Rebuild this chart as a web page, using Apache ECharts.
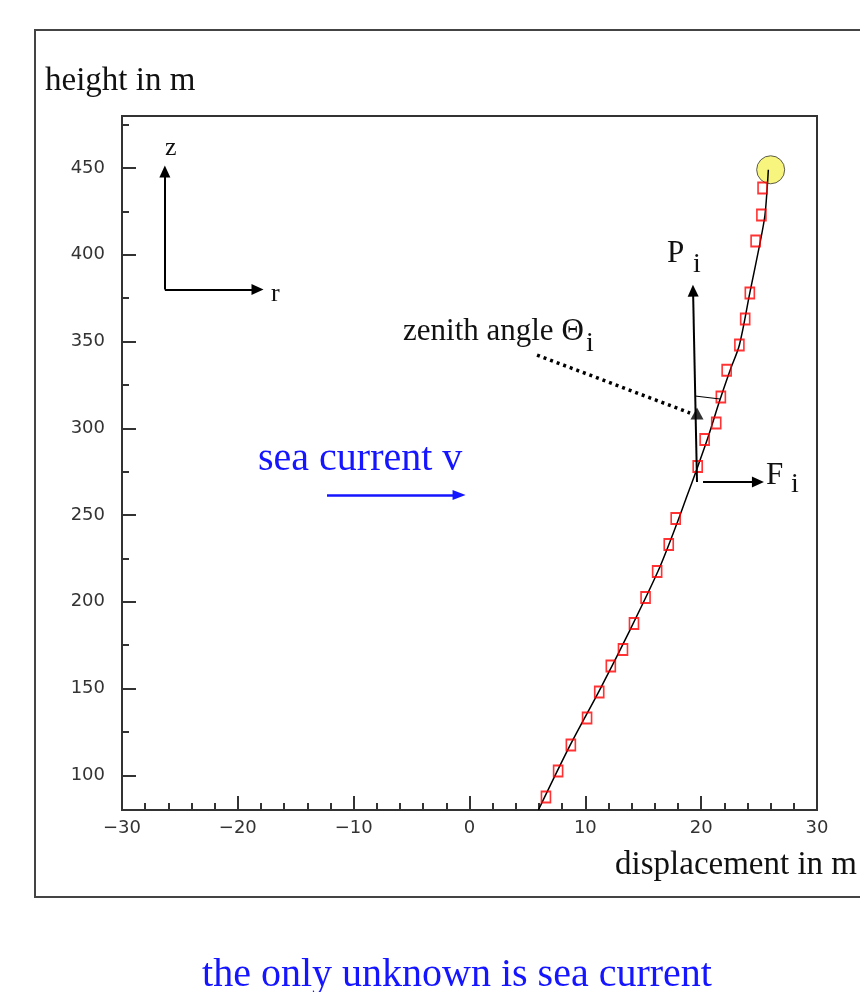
<!DOCTYPE html>
<html><head><meta charset="utf-8">
<script src="https://cdn.jsdelivr.net/npm/echarts@6/dist/echarts.min.js"></script>
<style>html,body{margin:0;padding:0;background:#fff}#c{width:860px;height:992px}</style>
</head><body><div id="c"></div>
<script>
// ---- data ----
const xTicks = [-30, -20, -10, 0, 10, 20, 30];
const yTicks = [100, 150, 200, 250, 300, 350, 400, 450];
const yMinorTicks = [125, 175, 225, 275, 325, 375, 425, 475];
const markerPoints = [
  [25.3, 438.5], [25.2, 423], [24.7, 408], [24.2, 378], [23.8, 363], [23.3, 348],
  [22.2, 333.5], [21.7, 318], [21.3, 303], [20.3, 293.5], [19.7, 278], [17.8, 248],
  [17.2, 233], [16.2, 217.5], [15.2, 202.5], [14.2, 187.5], [13.25, 172.5], [12.2, 163],
  [11.2, 148], [10.15, 133], [8.75, 117.5], [7.65, 102.5], [6.6, 87.5]
];
const curvePoints = [
  [5.95, 80], [8.7, 117.5], [11.3, 150], [13.8, 183], [16.3, 218], [17.9, 245],
  [18.75, 260.5], [19.6, 276], [20.6, 295], [21.6, 316], [22.5, 333.5], [23.3, 348],
  [24.2, 378], [25.1, 407.5], [25.5, 422.5], [25.7, 438.5], [25.8, 449]
];
const buoy = [[26.0, 449]];
// annotation arrows (data coordinates)
const blackArrows = [
  [[-26.3, 380], [-26.3, 448]],   // z
  [[-26.3, 380], [-18.3, 380]],   // r
  [[19.64, 269], [19.3, 379.3]],  // P_i
  [[20.16, 269], [24.9, 269]]     // F_i
];
const blueArrow = [[[-12.3, 261.6], [-0.9, 261.6]]];
const angleMark = [[[19.47, 318.6], [21.63, 316.9]]];
const dottedArrow = [[[5.83, 342.2], [19.04, 308.8]]];
const dottedHead = [[19.64, 308.5]];

const serif = '"Liberation Serif", "Times New Roman", serif';
function seg(list) { return list.map(p => [{ coord: p[0] }, { coord: p[1] }]); }
function txt(text, x, y, size, color, align) {
  return { type: 'text', x: x, y: y, silent: true,
    style: { text: text, fontFamily: serif, fontSize: size, fill: color || '#111',
      align: align || 'left', verticalAlign: 'middle' } };
}

const chart = echarts.init(document.getElementById('c'), null, { renderer: 'canvas' });
chart.setOption({
  animation: false,
  backgroundColor: '#fff',
  grid: { left: 122, top: 116, width: 695, height: 694, show: true,
    borderColor: '#333', borderWidth: 2, backgroundColor: 'transparent' },
  xAxis: {
    type: 'value', min: -30, max: 30, interval: 10,
    axisLine: { show: true, onZero: false, lineStyle: { color: '#333', width: 2 } },
    axisTick: { show: true, inside: true, length: 14, lineStyle: { color: '#333', width: 2 } },
    minorTick: { show: true, splitNumber: 5, length: 7, lineStyle: { color: '#333', width: 2 } },
    splitLine: { show: false },
    axisLabel: { margin: 9, color: '#333', fontFamily: 'DejaVu Sans', fontSize: 18,
      formatter: v => String(v).replace('-', '\u2212') }
  },
  yAxis: [{
    type: 'value', min: 80, max: 480,
    axisLine: { show: true, onZero: false, lineStyle: { color: '#333', width: 2 } },
    axisTick: { show: true, inside: true, length: 14, customValues: yTicks, lineStyle: { color: '#333', width: 2 } },
    splitLine: { show: false },
    axisLabel: { margin: 17, color: '#333', fontFamily: 'DejaVu Sans', fontSize: 18, customValues: yTicks }
  }, {
    type: 'value', min: 80, max: 480, position: 'left',
    axisLine: { show: false, onZero: false },
    axisTick: { show: true, inside: true, length: 7, customValues: yMinorTicks, lineStyle: { color: '#333', width: 2 } },
    splitLine: { show: false },
    axisLabel: { show: false }
  }],
  series: [
    { type: 'line', data: curvePoints, smooth: 0.3, showSymbol: false, symbol: 'none',
      lineStyle: { color: '#000', width: 1.5 }, z: 3, silent: true },
    { type: 'scatter', data: markerPoints, symbol: 'rect', symbolSize: [9, 11],
      itemStyle: { color: 'rgba(255,255,255,0)', borderColor: '#ff0000', borderWidth: 1.8 }, z: 4, silent: true },
    { type: 'scatter', data: buoy, symbol: 'circle', symbolSize: 28,
      itemStyle: { color: '#f5f25c', borderColor: '#333', borderWidth: 1 }, z: 2, silent: true },
    { type: 'scatter', data: dottedHead, symbol: 'triangle', symbolSize: [13, 12],
      itemStyle: { color: '#000' }, z: 5, silent: true },
    { type: 'line', data: [], markLine: { silent: true, animation: false,
      symbol: ['none', 'triangle'], symbolSize: [11, 12], label: { show: false },
      lineStyle: { color: '#000', width: 2, type: 'solid' }, data: seg(blackArrows) } },
    { type: 'line', data: [], markLine: { silent: true, animation: false,
      symbol: ['none', 'triangle'], symbolSize: [10, 13], label: { show: false },
      lineStyle: { color: '#1515ff', width: 2.5, type: 'solid' }, data: seg(blueArrow) } },
    { type: 'line', data: [], markLine: { silent: true, animation: false,
      symbol: ['none', 'none'], label: { show: false },
      lineStyle: { color: '#000', width: 1.2, type: 'solid' }, data: seg(angleMark) } },
    { type: 'line', data: [], markLine: { silent: true, animation: false,
      symbol: ['none', 'none'], label: { show: false },
      lineStyle: { color: '#000', width: 3.5, type: [3, 4] }, data: seg(dottedArrow) } }
  ],
  graphic: [
    { type: 'rect', silent: true, shape: { x: 35, y: 30, width: 860, height: 867 },
      style: { fill: 'none', stroke: '#444', lineWidth: 2 } },
    txt('height in m', 45, 81, 33),
    txt('displacement in m', 857, 865, 33, '#111', 'right'),
    txt('z', 165, 148, 26),
    txt('r', 271, 294, 26),
    txt('zenith angle \u0398', 403, 332, 31),
    txt('i', 586, 344, 28),
    txt('P', 667, 254, 31),
    txt('i', 693, 265, 28),
    txt('F', 766, 476, 31),
    txt('i', 791, 485, 28),
    txt('sea current v', 258, 459, 40, '#1515ff'),
    txt('the only unknown is sea current', 457, 975, 40, '#1515ff', 'center')
  ]
});
</script></body></html>
